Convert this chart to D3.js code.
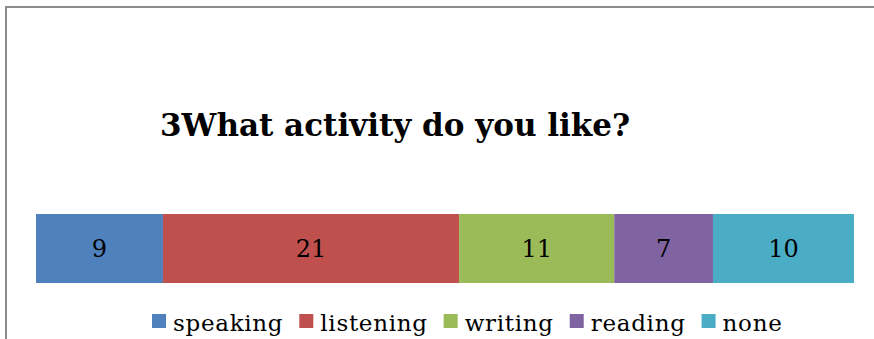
<!DOCTYPE html>
<html>
<head>
<meta charset="utf-8">
<script src="https://cdn.jsdelivr.net/npm/d3@7/dist/d3.min.js"></script>
<style>
  html, body { margin: 0; padding: 0; background: #fff; }
  svg { display: block; }
  text { font-family: "DejaVu Serif", "Liberation Serif", serif; }
</style>
</head>
<body>
<svg id="chart" width="874" height="339"></svg>
<script>
// Survey question and answer counts
const question = "3What activity do you like?";
const categories = ["speaking", "listening", "writing", "reading", "none"];
const counts = [9, 21, 11, 7, 10];
const colors = ["#4F81BD", "#C0504D", "#9BBB59", "#8064A2", "#4BACC6"];

const W = 874, H = 339;
const svg = d3.select("#chart");

// Frame (left and top edges visible)
svg.append("path")
  .attr("d", `M6,${H} L6,7 L${W},7`)
  .attr("fill", "none")
  .attr("stroke", "#8c8c8c")
  .attr("stroke-width", 2);

// Title
svg.append("text")
  .attr("x", 160)
  .attr("y", 136)
  .attr("font-size", 31)
  .attr("font-weight", "bold")
  .attr("fill", "#000")
  .text(question);

// Stacked data
const total = d3.sum(counts);
let acc = 0;
const segs = categories.map((c, i) => {
  const s = { cat: c, value: counts[i], x0: acc, x1: acc + counts[i], color: colors[i] };
  acc += counts[i];
  return s;
});

const x = d3.scaleLinear().domain([0, total]).range([36, 854]);
const y = d3.scaleBand().domain([question]).range([214, 283]).padding(0);

const g = svg.append("g");
g.selectAll("rect")
  .data(segs)
  .join("rect")
  .attr("x", d => x(d.x0))
  .attr("y", y(question))
  .attr("width", d => x(d.x1) - x(d.x0))
  .attr("height", y.bandwidth())
  .attr("fill", d => d.color);

g.selectAll("text.val")
  .data(segs)
  .join("text")
  .attr("class", "val")
  .attr("x", d => (x(d.x0) + x(d.x1)) / 2)
  .attr("y", y(question) + y.bandwidth() / 2)
  .attr("dy", "0.36em")
  .attr("text-anchor", "middle")
  .attr("font-size", 24)
  .attr("fill", "#000")
  .text(d => d.value);

// Legend
const legend = svg.append("g");
let lx = 152;
categories.forEach((c, i) => {
  legend.append("rect")
    .attr("x", lx).attr("y", 314)
    .attr("width", 14).attr("height", 14)
    .attr("fill", colors[i]);
  const t = legend.append("text")
    .attr("x", lx + 21).attr("y", 331)
    .attr("font-size", 23)
    .attr("letter-spacing", 0.7)
    .attr("fill", "#000")
    .text(c);
  lx += 21 + t.node().getComputedTextLength() + 16;
});
</script>
</body>
</html>
